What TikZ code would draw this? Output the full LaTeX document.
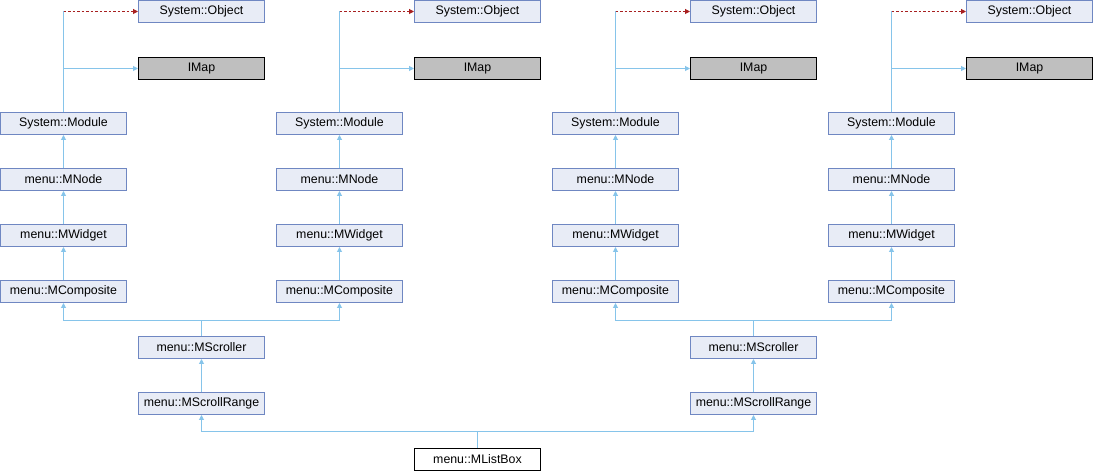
\documentclass[tikz,border=0pt]{standalone}
\usepackage{fontspec}
\setmainfont{Liberation Sans}
\usetikzlibrary{arrows.meta}
\definecolor{boxfill}{HTML}{E8ECF6}
\definecolor{boxdraw}{HTML}{6F87C2}
\definecolor{edgeblue}{HTML}{86C4EA}
\definecolor{edgered}{HTML}{A82020}
\definecolor{greyfill}{HTML}{BFBFBF}
\begin{document}
\begin{tikzpicture}[x=1bp,y=-1bp,
  base/.style={line width=1bp,minimum width=126bp,minimum height=22bp,inner sep=0pt,font=\fontsize{12.4}{14}\selectfont},
  cls/.style={base,draw=boxdraw,fill=boxfill},
  imapbox/.style={base,draw=black,fill=greyfill},
  mainbox/.style={base,draw=black,fill=white},
  edge/.style={draw=edgeblue,line width=1bp},
  inh/.style={edge,-{Triangle[length=5bp,width=5bp]}},
  priv/.style={draw=edgered,line width=1bp,dash pattern=on 2.5bp off 2bp,-{Triangle[length=5bp,width=5bp]}}]
\useasboundingbox (0,0) rectangle (1094,472);
\foreach \c/\b in {a/0,b/276,c/552,d/828} {
  \node[cls] (obj\c) at (\b+201.5,11.5) {System::Object};
  \node[imapbox] (imap\c) at (\b+201.5,68.5) {IMap};
  \node[cls] (mod\c) at (\b+63.5,123.5) {System::Module};
  \node[cls] (mnode\c) at (\b+63.5,179.5) {menu::MNode};
  \node[cls] (wid\c) at (\b+63.5,235.5) {menu::MWidget};
  \node[cls] (comp\c) at (\b+63.5,291.5) {menu::MComposite};
  \draw[inh] (mnode\c.north) -- (mod\c.south);
  \draw[inh] (wid\c.north) -- (mnode\c.south);
  \draw[inh] (comp\c.north) -- (wid\c.south);
  \coordinate (top\c) at (mod\c.north |- obj\c.west);
  \coordinate (mid\c) at (mod\c.north |- imap\c.west);
  \draw[edge] (mod\c.north) -- (top\c);
  \draw[priv] (top\c) -- (obj\c.west);
  \draw[inh] (mid\c) -- (imap\c.west);
}
\node[cls] (scrL) at (201.5,347.5) {menu::MScroller};
\node[cls] (rngL) at (201.5,403.5) {menu::MScrollRange};
\node[cls] (scrR) at (753.5,347.5) {menu::MScroller};
\node[cls] (rngR) at (753.5,403.5) {menu::MScrollRange};
\node[mainbox] (lb) at (477.5,459.5) {menu::MListBox};
\coordinate (jL) at (201.5,320.5);
\coordinate (jR) at (753.5,320.5);
\coordinate (jB) at (477.5,431.5);
\draw[edge] (scrL.north) -- (jL);
\draw[inh] (jL) -| (compa.south);
\draw[inh] (jL) -| (compb.south);
\draw[edge] (scrR.north) -- (jR);
\draw[inh] (jR) -| (compc.south);
\draw[inh] (jR) -| (compd.south);
\draw[inh] (rngL.north) -- (scrL.south);
\draw[inh] (rngR.north) -- (scrR.south);
\draw[edge] (lb.north) -- (jB);
\draw[inh] (jB) -| (rngL.south);
\draw[inh] (jB) -| (rngR.south);
\end{tikzpicture}
\end{document}
